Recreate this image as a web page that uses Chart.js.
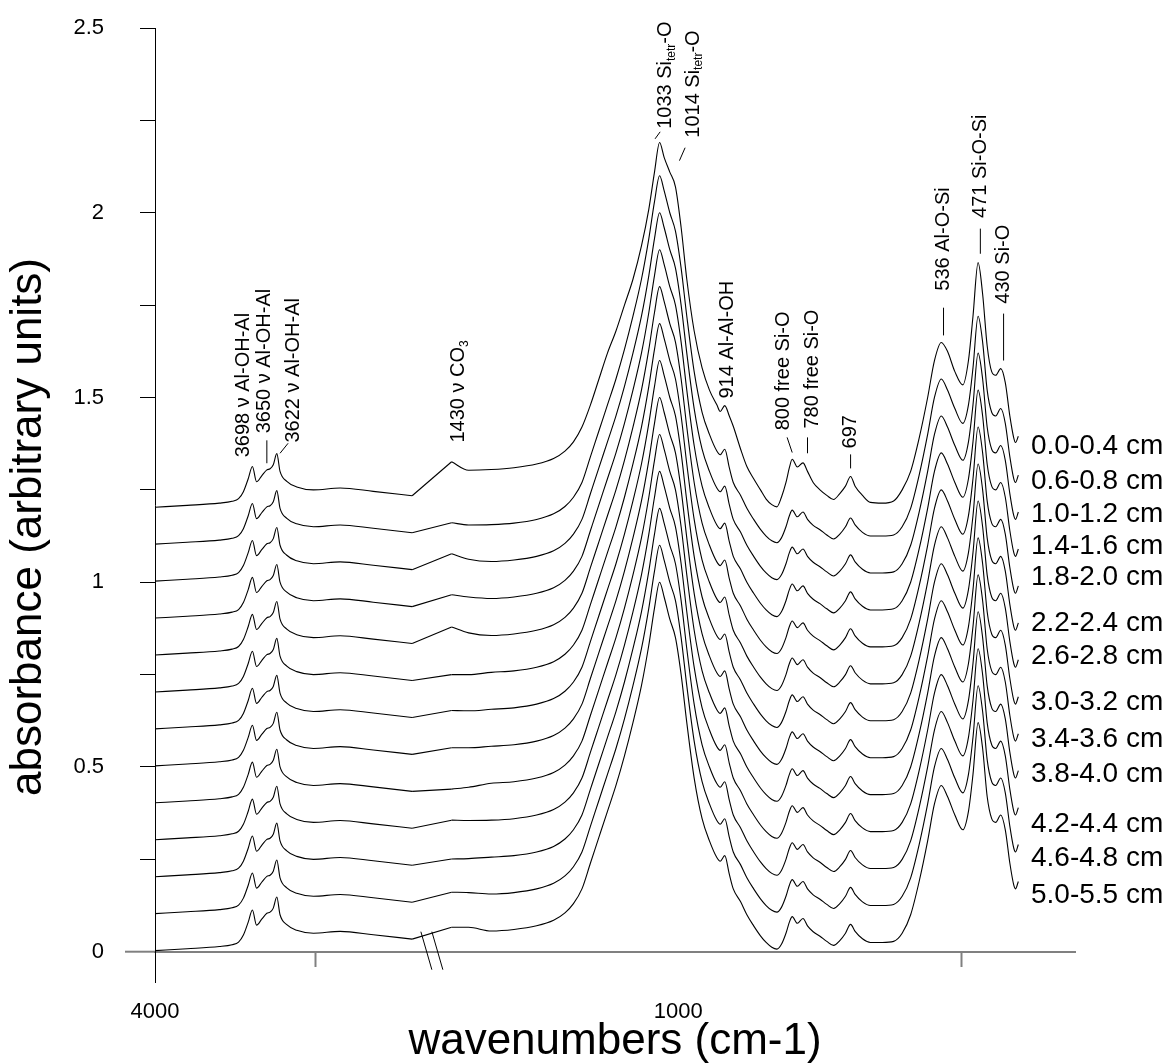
<!DOCTYPE html>
<html>
<head>
<meta charset="utf-8">
<script src="https://cdn.jsdelivr.net/npm/chart.js@4/dist/chart.umd.min.js"></script>
<style>
  html, body { margin: 0; padding: 0; background: #fff; }
  #wrap { width: 1174px; height: 1064px; }
</style>
</head>
<body>
<div id="wrap"><canvas id="chart"></canvas></div>
<script>
// ---------- data ----------
// left part of the broken axis (OH stretching region), cm-1
const wnLeft = [4000, 3900, 3800, 3760, 3740, 3725, 3710, 3697, 3684, 3668, 3652, 3642, 3632, 3621, 3611, 3590, 3559, 3507, 3424, 3321, 3200];
const absLeft = [0.003, 0.008, 0.014, 0.019, 0.026, 0.045, 0.080, 0.113, 0.072, 0.088, 0.104, 0.107, 0.118, 0.148, 0.100, 0.073, 0.058, 0.050, 0.055, 0.046, 0.034];

// carbonate edge, different for every depth
const wnCo3 = [1400, 1370];
const co3Values = [
  [0.126, 0.103], [0.061, 0.055], [0.077, 0.062], [0.066, 0.060], [0.079, 0.063],
  [0.050, 0.050], [0.053, 0.052], [0.052, 0.052], [0.040, 0.045], [0.056, 0.055],
  [0.051, 0.052], [0.061, 0.060], [0.066, 0.066]
];

// right part of the broken axis (lattice region), cm-1
const wnRight = [1330, 1290, 1250, 1220, 1200, 1185, 1170, 1155, 1140, 1125, 1110, 1095, 1080, 1065, 1052, 1042, 1033, 1025, 1015, 1005, 995, 985, 972, 958, 945, 932, 926, 918, 910, 903, 890, 879, 867, 855, 845, 835, 826, 818, 810, 804, 799, 790, 780, 772, 762, 750, 738, 726, 715, 705, 696, 688, 675, 661, 640, 620, 605, 590, 575, 560, 548, 536, 525, 512, 498, 488, 480, 471, 463, 455, 447, 440, 431, 423, 415, 408, 405, 400];
// top sample (0.0-0.4 cm)
const absRightTop = [0.105, 0.110, 0.120, 0.135, 0.155, 0.180, 0.220, 0.280, 0.350, 0.420, 0.480, 0.550, 0.620, 0.710, 0.810, 0.910, 0.990, 0.950, 0.910, 0.870, 0.760, 0.620, 0.480, 0.380, 0.320, 0.280, 0.262, 0.278, 0.250, 0.222, 0.160, 0.113, 0.080, 0.050, 0.025, 0.010, 0.004, 0.030, 0.070, 0.110, 0.133, 0.112, 0.123, 0.100, 0.070, 0.050, 0.035, 0.024, 0.040, 0.060, 0.086, 0.060, 0.035, 0.016, 0.014, 0.020, 0.050, 0.100, 0.190, 0.300, 0.400, 0.449, 0.425, 0.370, 0.334, 0.400, 0.520, 0.665, 0.580, 0.440, 0.370, 0.360, 0.378, 0.340, 0.250, 0.190, 0.178, 0.195];
// deeper samples
const absRightRest = [0.056, 0.060, 0.070, 0.085, 0.105, 0.130, 0.170, 0.240, 0.310, 0.380, 0.450, 0.530, 0.620, 0.720, 0.830, 0.930, 1.000, 0.960, 0.900, 0.850, 0.750, 0.620, 0.470, 0.360, 0.300, 0.255, 0.245, 0.260, 0.210, 0.170, 0.135, 0.100, 0.070, 0.043, 0.025, 0.012, 0.007, 0.020, 0.050, 0.080, 0.095, 0.077, 0.090, 0.070, 0.054, 0.042, 0.028, 0.017, 0.030, 0.050, 0.074, 0.055, 0.035, 0.025, 0.025, 0.028, 0.050, 0.100, 0.190, 0.300, 0.400, 0.450, 0.420, 0.370, 0.330, 0.380, 0.480, 0.620, 0.550, 0.420, 0.360, 0.350, 0.370, 0.330, 0.240, 0.180, 0.170, 0.190];

const depthLabels = ['0.0-0.4 cm', '0.6-0.8 cm', '1.0-1.2 cm', '1.4-1.6 cm', '1.8-2.0 cm', '2.2-2.4 cm', '2.6-2.8 cm', '3.0-3.2 cm', '3.4-3.6 cm', '3.8-4.0 cm', '4.2-4.4 cm', '4.6-4.8 cm', '5.0-5.5 cm'];
const traceOffsets = [1.2, 1.1, 1.0, 0.9, 0.8, 0.7, 0.6, 0.5, 0.4, 0.3, 0.2, 0.1, 0.0];
const yTicks = [0, 0.25, 0.5, 0.75, 1, 1.25, 1.5, 1.75, 2, 2.25, 2.5];
const xTicks = [4000, 3500, 1000, 500];
const xLabelled = [4000, 1000];

// ---------- layout ----------
const FONT = "'Liberation Sans', Arial, sans-serif";
// broken axis: [wavenumber, fraction of plot width]
const axisStops = [[4000, 0], [3200, 0.2795], [1400, 0.3224], [300, 1]];
const labelLevels = [1.368, 1.274, 1.183, 1.096, 1.014, 0.889, 0.799, 0.674, 0.576, 0.480, 0.344, 0.254, 0.152];

const peakNotes = [
  { label: '3698 ν Al-OH-Al', wn: 3726, at: 1.338 },
  { label: '3650 ν Al-OH-Al', wn: 3658, at: 1.403, tick: [[3652, 1.384], [3652, 1.322]] },
  { label: '3622 ν Al-OH-Al', wn: 3570, at: 1.378, tick: [[3586, 1.376], [3611, 1.349]] },
  { label: '1430 ν CO_{3}', wn: 1388, at: 1.378 },
  { label: '1033 Si_{tetr}-O', wn: 1023, at: 2.227, tick: [[1032, 2.219], [1041, 2.200]] },
  { label: '1014 Si_{tetr}-O', wn: 974, at: 2.203, tick: [[988, 2.176], [998, 2.141]] },
  { label: '914 Al-Al-OH', wn: 913, at: 1.497 },
  { label: '800 free Si-O', wn: 815, at: 1.411, tick: [[808, 1.392], [799, 1.351]] },
  { label: '780 free Si-O', wn: 764, at: 1.416, tick: [[772, 1.392], [772, 1.349]] },
  { label: '697', wn: 696, at: 1.362, tick: [[696, 1.346], [696, 1.308]] },
  { label: '536 Al-O-Si', wn: 532, at: 1.789, tick: [[532, 1.743], [532, 1.668]] },
  { label: '471 Si-O-Si', wn: 467, at: 1.986, tick: [[467, 1.957], [467, 1.889]] },
  { label: '430 Si-O', wn: 426, at: 1.754, tick: [[426, 1.727], [426, 1.600]] }
];

// linear scale with a compressed OH region and a gap between 3200 and 1400
class BrokenScale extends Chart.LinearScale {
  static id = 'broken';
  static defaults = {};
  toDecimal(v) {
    for (let i = 0; i < axisStops.length - 1; i++) {
      const [v0, f0] = axisStops[i], [v1, f1] = axisStops[i + 1];
      if (v >= v1 || i === axisStops.length - 2) return f0 + (v - v0) / (v1 - v0) * (f1 - f0);
    }
  }
  getPixelForValue(v) {
    return v == null ? NaN : this.getPixelForDecimal(this.toDecimal(v));
  }
  getValueForPixel(p) {
    const d = this.getDecimalForPixel(p);
    for (let i = 0; i < axisStops.length - 1; i++) {
      const [v0, f0] = axisStops[i], [v1, f1] = axisStops[i + 1];
      if (d <= f1 || i === axisStops.length - 2) return v0 + (d - f0) / (f1 - f0) * (v1 - v0);
    }
  }
}
Chart.register(BrokenScale);

// ---------- datasets ----------
const lineStyle = { borderColor: '#000', borderWidth: 1.1, pointRadius: 0, fill: false };
const datasets = [];
traceOffsets.forEach((off, i) => {
  const right = i === 0 ? absRightTop : absRightRest;
  datasets.push({ ...lineStyle, label: depthLabels[i], cubicInterpolationMode: 'monotone',
    data: wnLeft.map((w, k) => ({ x: w, y: absLeft[k] + off })) });
  datasets.push({ ...lineStyle, label: depthLabels[i] + ' gap', tension: 0,
    data: [{ x: wnLeft[wnLeft.length - 1], y: absLeft[absLeft.length - 1] + off },
           { x: wnCo3[0], y: co3Values[i][0] + off }] });
  datasets.push({ ...lineStyle, label: depthLabels[i] + ' fingerprint', cubicInterpolationMode: 'monotone',
    data: wnCo3.map((w, k) => ({ x: w, y: co3Values[i][k] + off }))
      .concat(wnRight.map((w, k) => ({ x: w, y: right[k] + off }))) });
});

// ---------- text & decorations ----------
function drawUpright(ctx, x, y, label) {
  const parts = label.split(/_\{([^}]*)\}/);
  ctx.save();
  ctx.translate(x, y);
  ctx.rotate(-Math.PI / 2);
  ctx.textAlign = 'left';
  ctx.textBaseline = 'middle';
  let cx = 0;
  parts.forEach((t, k) => {
    const sub = k % 2 === 1;
    ctx.font = sub ? `12px ${FONT}` : `20px ${FONT}`;
    ctx.fillText(t, cx, sub ? 6 : 0);
    cx += ctx.measureText(t).width;
  });
  ctx.restore();
}

const decorations = {
  id: 'decorations',
  afterDraw(chart) {
    const { ctx, scales: { x, y }, chartArea } = chart;
    const y0 = y.getPixelForValue(0);
    ctx.save();
    // x axis continues left of the origin
    ctx.strokeStyle = '#808080';
    ctx.lineWidth = 2;
    ctx.beginPath();
    ctx.moveTo(chartArea.left - 30, y0);
    ctx.lineTo(chartArea.left, y0);
    ctx.stroke();

    // axis break marks
    const bx = (x.getPixelForValue(3200) + x.getPixelForValue(1400)) / 2;
    ctx.strokeStyle = '#000';
    ctx.lineWidth = 1;
    [-5.5, 5.5].forEach(dx => {
      ctx.beginPath();
      ctx.moveTo(bx + dx - 5.5, y0 - 20);
      ctx.lineTo(bx + dx + 5.5, y0 + 18);
      ctx.stroke();
    });

    // peak assignments
    ctx.fillStyle = '#000';
    peakNotes.forEach(n => {
      drawUpright(ctx, x.getPixelForValue(n.wn), y.getPixelForValue(n.at), n.label);
      if (n.tick) {
        ctx.beginPath();
        ctx.moveTo(x.getPixelForValue(n.tick[0][0]), y.getPixelForValue(n.tick[0][1]));
        ctx.lineTo(x.getPixelForValue(n.tick[1][0]), y.getPixelForValue(n.tick[1][1]));
        ctx.stroke();
      }
    });

    // depth labels
    ctx.font = `28px ${FONT}`;
    ctx.textAlign = 'left';
    ctx.textBaseline = 'middle';
    depthLabels.forEach((t, i) => ctx.fillText(t, chartArea.right - 44, y.getPixelForValue(labelLevels[i])));

    // axis titles
    ctx.font = `44px ${FONT}`;
    ctx.textAlign = 'center';
    ctx.fillText('wavenumbers (cm-1)', (chartArea.left + chartArea.right) / 2, 1042);
    ctx.save();
    ctx.translate(29, 527);
    ctx.rotate(-Math.PI / 2);
    ctx.fillText('absorbance (arbitrary units)', 0, 0);
    ctx.restore();
    ctx.restore();
  }
};

new Chart(document.getElementById('chart'), {
  type: 'line',
  data: { datasets },
  plugins: [decorations],
  options: {
    responsive: true,
    maintainAspectRatio: false,
    animation: false,
    events: [],
    layout: { padding: { top: 28, right: 99, bottom: 82, left: 0 } },
    plugins: { legend: { display: false }, tooltip: { enabled: false } },
    scales: {
      x: {
        type: 'broken',
        min: 300,
        max: 4000,
        position: { y: 0 },
        afterBuildTicks: s => { s.ticks = xTicks.map(v => ({ value: v })); },
        ticks: {
          autoSkip: false, maxRotation: 0, padding: 33, color: '#000',
          font: { family: FONT, size: 22 },
          callback: v => xLabelled.includes(v) ? String(v) : ''
        },
        grid: {
          drawOnChartArea: false, tickLength: 14, tickWidth: 2,
          tickColor: c => (c.tick && xLabelled.includes(c.tick.value)) ? 'rgba(0,0,0,0)' : '#808080'
        },
        border: { color: '#808080', width: 2 }
      },
      y: {
        type: 'linear',
        min: -0.082,
        max: 2.5,
        afterBuildTicks: s => { s.ticks = yTicks.map(v => ({ value: v })); },
        // fixed axis width; tick padding must not push the plot down
        afterFit: s => { s.width = 155; s.paddingTop = 0; s.paddingBottom = 0; },
        ticks: {
          autoSkip: false, padding: 36, color: '#000',
          font: { family: FONT, size: 22 },
          callback: v => Math.abs(v * 2 - Math.round(v * 2)) < 1e-9 ? String(v) : ''
        },
        grid: { drawOnChartArea: false, tickLength: 15, tickColor: '#000', tickWidth: 1 },
        border: { color: '#000', width: 1 }
      }
    }
  }
});
</script>
</body>
</html>
